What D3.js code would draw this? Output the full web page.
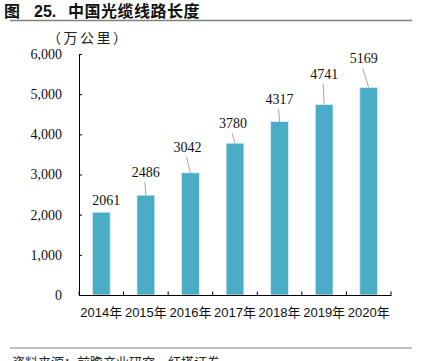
<!DOCTYPE html>
<html>
<head>
<meta charset="utf-8">
<script src="https://cdn.jsdelivr.net/npm/d3@7"></script>
<style>
  body { margin: 0; background: #fff; overflow: hidden; }
  svg { display: block; }
</style>
</head>
<body>
<svg width="422" height="361"></svg>
<script>
// data
var years = ["2014年", "2015年", "2016年", "2017年", "2018年", "2019年", "2020年"];
var lengths = [2061, 2486, 3042, 3780, 4317, 4741, 5169];
var yTicks = [0, 1000, 2000, 3000, 4000, 5000, 6000];

// where each value label sits relative to the top of its bar (px)
var labelNudge = [[5, -7], [0, -18], [-3, -21], [-2, -15], [0, -18], [0, -26], [-5, -24]];

var serif = "'Liberation Serif', 'Times New Roman', serif";
var sans = "'Liberation Sans', Arial, 'Noto Sans CJK SC', sans-serif";
var cjk = "'Noto Sans CJK SC', sans-serif";

var svg = d3.select("svg");

// plot area (window.top is taken, so own names)
var plotLeft = 79, plotRight = 391, plotTop = 54, plotBottom = 295;

var x = d3.scaleBand()
    .domain(years)
    .range([plotLeft, plotRight])
    .paddingInner(0.6)
    .paddingOuter(0.3);

var y = d3.scaleLinear()
    .domain([0, 6000])
    .range([plotBottom, plotTop]);

// title
var title = svg.append("text")
    .attr("x", 4)
    .attr("y", 17)
    .style("font-weight", "bold")
    .style("font-size", "16px")
    .style("fill", "#111");
title.append("tspan").style("font-family", cjk).text("图");
title.append("tspan").style("font-family", sans).attr("x", 34).text("25.");
title.append("tspan").style("font-family", cjk).attr("x", 68)
    .style("letter-spacing", "0.5px").text("中国光缆线路长度");

svg.append("line")
    .attr("x1", 10).attr("x2", 412)
    .attr("y1", 20.5).attr("y2", 20.5)
    .style("stroke", "#7f7f7f")
    .style("stroke-width", 1.5);

// unit
svg.append("text")
    .attr("x", 47)
    .attr("y", 43)
    .style("font-family", cjk)
    .style("font-size", "14px")
    .style("letter-spacing", "2.5px")
    .style("fill", "#222")
    .text("（万公里）");

// y axis
var yAxis = svg.append("g")
    .attr("transform", "translate(" + plotLeft + ",0)")
    .call(d3.axisLeft(y)
        .tickValues(yTicks)
        .tickFormat(d3.format(","))
        .tickSizeInner(-3)
        .tickSizeOuter(0)
        .tickPadding(17));
yAxis.selectAll("text")
    .style("font-family", serif)
    .style("font-size", "14px")
    .style("fill", "#111");
yAxis.selectAll("line, path").style("stroke", "#000");

// bars
svg.append("g").selectAll("rect")
    .data(lengths)
    .enter().append("rect")
    .attr("x", function(d, i) { return x(years[i]); })
    .attr("y", function(d) { return y(d); })
    .attr("width", x.bandwidth())
    .attr("height", function(d) { return y(0) - y(d); })
    .style("fill", "#4bacc6")
    .style("stroke", "#dcf0f5")
    .style("stroke-width", 0.8);

// x axis
var xAxis = svg.append("g")
    .attr("transform", "translate(0," + plotBottom + ")")
    .call(d3.axisBottom(x).tickSize(0).tickPadding(12.5));
xAxis.selectAll("text")
    .style("font-family", sans)
    .style("font-size", "13px")
    .style("fill", "#111");
xAxis.select(".domain").style("stroke", "#000");

// ticks between categories, pointing up
xAxis.selectAll("line.sep")
    .data(d3.range(years.length + 1))
    .enter().append("line")
    .attr("class", "sep")
    .attr("x1", function(i) { return plotLeft + i * x.step(); })
    .attr("x2", function(i) { return plotLeft + i * x.step(); })
    .attr("y1", 0)
    .attr("y2", -3.5)
    .style("stroke", "#000");

// value labels with leader lines
var labels = svg.append("g");
lengths.forEach(function(d, i) {
    var cx = x(years[i]) + x.bandwidth() / 2,
        ty = y(d),
        lx = cx + labelNudge[i][0],
        ly = ty + labelNudge[i][1];

    if (ty - (ly + 5) > 3) {
        labels.append("line")
            .attr("x1", lx - 1).attr("y1", ly + 5)
            .attr("x2", cx).attr("y2", ty)
            .style("stroke", "#a6a6a6")
            .style("stroke-width", 1);
    }

    labels.append("text")
        .attr("x", lx)
        .attr("y", ly)
        .attr("text-anchor", "middle")
        .style("font-family", serif)
        .style("font-size", "14px")
        .style("fill", "#111")
        .text(d);
});

// footer
svg.append("line")
    .attr("x1", 10).attr("x2", 412)
    .attr("y1", 348).attr("y2", 348)
    .style("stroke", "#7f7f7f")
    .style("stroke-width", 1.2);

svg.append("text")
    .attr("x", 12)
    .attr("y", 367)
    .style("font-family", cjk)
    .style("font-size", "13px")
    .style("fill", "#222")
    .text("资料来源：前瞻产业研究，红塔证券");
</script>
</body>
</html>
